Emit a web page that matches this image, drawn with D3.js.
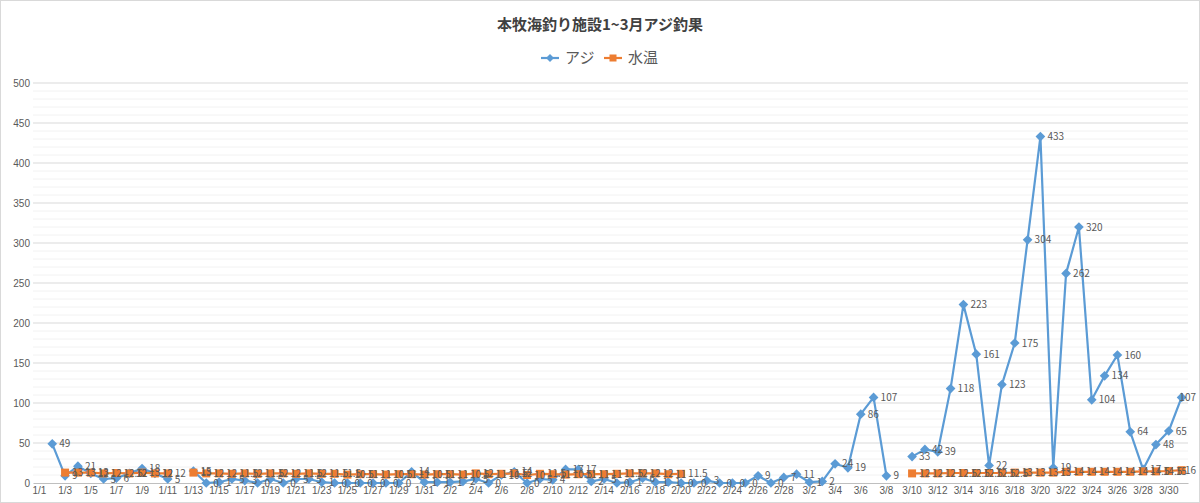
<!DOCTYPE html>
<html lang="ja">
<head>
<meta charset="UTF-8">
<title>本牧海釣り施設1~3月アジ釣果</title>
<script src="https://d3js.org/d3.v7.min.js"></script>
<style>
    body { margin: 0; background: #fff; }
    svg { font-family: "Noto Sans CJK JP", "Noto Sans", sans-serif; }
    .tick text { fill: #595959; font-size: 10px; }
    .data-label { fill: #595959; font-size: 10px; }
</style>
</head>
<body>
<svg id="chart"></svg>
<script>
// categories (dates 1/1 - 3/31)
const dates = [
    "1/1","1/2","1/3","1/4","1/5","1/6","1/7","1/8","1/9","1/10",
    "1/11","1/12","1/13","1/14","1/15","1/16","1/17","1/18","1/19","1/20",
    "1/21","1/22","1/23","1/24","1/25","1/26","1/27","1/28","1/29","1/30","1/31",
    "2/1","2/2","2/3","2/4","2/5","2/6","2/7","2/8","2/9","2/10",
    "2/11","2/12","2/13","2/14","2/15","2/16","2/17","2/18","2/19","2/20",
    "2/21","2/22","2/23","2/24","2/25","2/26","2/27","2/28",
    "3/1","3/2","3/3","3/4","3/5","3/6","3/7","3/8","3/9","3/10",
    "3/11","3/12","3/13","3/14","3/15","3/16","3/17","3/18","3/19","3/20",
    "3/21","3/22","3/23","3/24","3/25","3/26","3/27","3/28","3/29","3/30","3/31"
];

// アジ catch counts
const aji = [
    null,49,9,21,12,5,6,12,18,12,
    5,null,15,0,1,5,3,0,5,0,
    5,5,1,0,0,0,0,0,0,14,1,
    1,1,2,5,0,10,14,0,5,4,
    17,17,2,5,0,1,6,1,1,0,
    0,3,0,0,0,9,0,7,
    11,1,2,24,19,86,107,9,null,33,
    42,39,118,223,161,22,123,175,304,433,
    19,262,320,104,134,160,64,17,48,65,107
];

// 水温 (water temperature)
const suion = [
    null,null,13,13,13,12,12.5,12,13,12,
    12,null,13,12,12,11.5,12,11.5,12,12,
    11.5,12,11.5,11.5,10.5,11,11,10.5,11,11,10.5,
    11,11,10.5,12,11,11.5,12,10,11.5,11,
    10.5,11,11,11,11.5,12,12,12,11,11.5,
    null,null,null,null,null,null,null,null,
    null,null,null,null,null,null,null,null,null,12,
    12,12,12.5,12.5,12.5,12.5,12.5,13,13,13,
    13,14,14,14,14,14,14,14.5,14.5,15,16
];

const yTicks = [0,50,100,150,200,250,300,350,400,450,500];
const yMinor = d3.range(10, 500, 10);

const svgWidth = 1200;
const svgHeight = 503;
const margin = { top: 83, right: 12, bottom: 20, left: 33 };

const svg = d3.select("#chart")
    .attr("width", svgWidth)
    .attr("height", svgHeight);

// outer border
svg.append("rect")
    .attr("x", 0.5).attr("y", 0.5)
    .attr("width", svgWidth - 1).attr("height", svgHeight - 1)
    .attr("fill", "#fff")
    .attr("stroke", "#D9D9D9");

const xScale = d3.scaleBand()
    .domain(dates)
    .range([margin.left, svgWidth - margin.right])
    .padding(0);

const yScale = d3.scaleLinear()
    .domain([0, 500])
    .range([svgHeight - margin.bottom, margin.top]);

const cx = d => xScale(d) + xScale.bandwidth() / 2;

// minor gridlines
svg.append("g")
    .selectAll("line")
    .data(yMinor.filter(v => v % 50 !== 0))
    .enter().append("line")
    .attr("x1", margin.left).attr("x2", svgWidth - margin.right)
    .attr("y1", d => yScale(d)).attr("y2", d => yScale(d))
    .attr("stroke", "#F2F2F2")
    .attr("stroke-width", 1);

// major gridlines
svg.append("g")
    .selectAll("line")
    .data(yTicks.slice(1))
    .enter().append("line")
    .attr("x1", margin.left).attr("x2", svgWidth - margin.right)
    .attr("y1", d => yScale(d)).attr("y2", d => yScale(d))
    .attr("stroke", "#D9D9D9")
    .attr("stroke-width", 1);

// y axis
const yAxis = svg.append("g")
    .attr("transform", "translate(" + margin.left + ",0)")
    .call(d3.axisLeft(yScale).tickValues(yTicks).tickSize(0).tickPadding(3));
yAxis.select(".domain").remove();

// x axis
const xAxis = svg.append("g")
    .attr("transform", "translate(0," + yScale(0) + ")")
    .call(d3.axisBottom(xScale)
        .tickValues(dates.filter((d, i) => i % 2 === 0))
        .tickSize(0)
        .tickPadding(4));
xAxis.select(".domain").attr("stroke", "#BFBFBF");

// series
const blue = "#5B9BD5";
const orange = "#ED7D31";

function drawSeries(values, color) {
    const pts = dates.map((d, i) => ({ date: d, value: values[i] }));
    const line = d3.line()
        .defined(d => d.value !== null)
        .x(d => cx(d.date))
        .y(d => yScale(d.value));
    svg.append("path")
        .datum(pts)
        .attr("fill", "none")
        .attr("stroke", color)
        .attr("stroke-width", 2.2)
        .attr("stroke-linejoin", "round")
        .attr("d", line);
    return pts.filter(d => d.value !== null);
}

const ajiPts = drawSeries(aji, blue);
const suionPts = drawSeries(suion, orange);

// diamond markers
svg.append("g")
    .selectAll("path")
    .data(ajiPts)
    .enter().append("path")
    .attr("d", d3.symbol().type(d3.symbolDiamond2).size(60))
    .attr("transform", d => "translate(" + cx(d.date) + "," + yScale(d.value) + ")")
    .attr("fill", blue);

// square markers
svg.append("g")
    .selectAll("rect")
    .data(suionPts)
    .enter().append("rect")
    .attr("x", d => cx(d.date) - 4)
    .attr("y", d => yScale(d.value) - 4)
    .attr("width", 8).attr("height", 8)
    .attr("fill", orange);

// data labels (right of the point, kept inside the chart)
function drawLabels(pts) {
    svg.append("g")
        .selectAll("text")
        .data(pts)
        .enter().append("text")
        .attr("class", "data-label")
        .attr("y", d => yScale(d.value))
        .attr("dy", "0.35em")
        .text(d => d.value)
        .attr("x", function(d) {
            const w = this.getComputedTextLength();
            return Math.min(cx(d.date) + 7, svgWidth - 4 - w);
        });
}
drawLabels(ajiPts);
drawLabels(suionPts);

// title
svg.append("text")
    .attr("x", 600).attr("y", 25)
    .attr("text-anchor", "middle")
    .attr("dy", "0.35em")
    .attr("font-size", "15px")
    .attr("font-weight", "bold")
    .attr("fill", "#404040")
    .text("本牧海釣り施設1~3月アジ釣果");

// legend
const legend = svg.append("g").attr("transform", "translate(0,58)");
const legendItems = [
    { name: "アジ", color: blue, x: 541, shape: "diamond" },
    { name: "水温", color: orange, x: 604, shape: "square" }
];
legendItems.forEach(item => {
    legend.append("line")
        .attr("x1", item.x).attr("x2", item.x + 18)
        .attr("y1", 0).attr("y2", 0)
        .attr("stroke", item.color).attr("stroke-width", 2.2);
    if (item.shape === "diamond") {
        legend.append("path")
            .attr("d", d3.symbol().type(d3.symbolDiamond2).size(40))
            .attr("transform", "translate(" + (item.x + 9) + ",0)")
            .attr("fill", item.color);
    } else {
        legend.append("rect")
            .attr("x", item.x + 5.5).attr("y", -3.5)
            .attr("width", 7).attr("height", 7)
            .attr("fill", item.color);
    }
    legend.append("text")
        .attr("x", item.x + 24).attr("y", 0)
        .attr("dy", "0.35em")
        .attr("font-size", "15px")
        .attr("fill", "#595959")
        .text(item.name);
});
</script>
</body>
</html>
